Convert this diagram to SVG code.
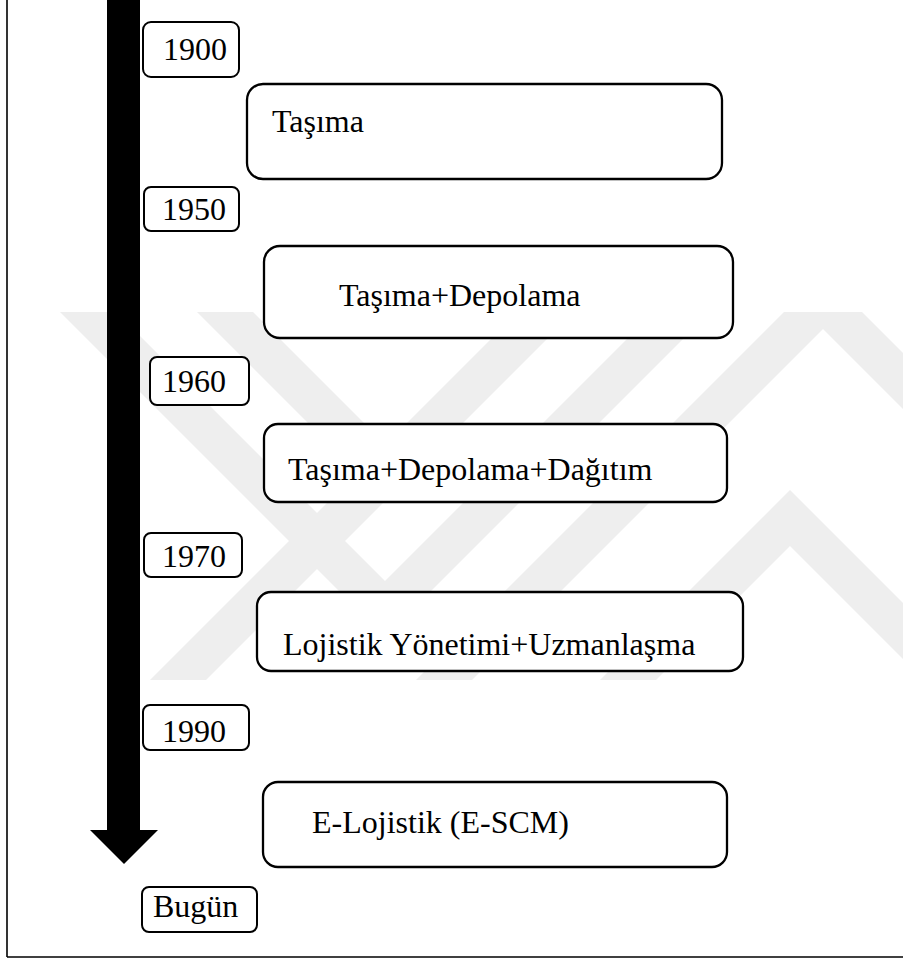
<svg xmlns="http://www.w3.org/2000/svg" width="903" height="959" viewBox="0 0 903 959">
<style>
.wm{fill:#eeeeee;stroke:none}
.big{fill:#fff;stroke:#000;stroke-width:2.3}
.yr{fill:#fff;stroke:#000;stroke-width:2}
.t{font-family:"Liberation Serif","Times New Roman",serif;font-size:32px;fill:#000}
</style>
<defs>
<clipPath id="wmclip"><rect x="0" y="312" width="903" height="368"/></clipPath>
</defs>
<rect x="0" y="0" width="903" height="959" fill="#fff"/>
<g id="watermark" clip-path="url(#wmclip)">
<polygon class="wm" points="518,312 574,312 206,680 150,680"/>
<polygon class="wm" points="784,312 840,312 472,680 416,680"/>
<polygon class="wm" points="197,312 253,312 399,458 371,486"/>
<polygon class="wm" points="60,312 116,312 385,581 654,312 710,312 385,637"/>
<polygon class="wm" points="790,490 980,680 924,680 790,546 656,680 600,680"/>
<polygon class="wm" points="806,312 862,312 1000,450 944,450"/>
</g>
<g id="frame" fill="none" stroke="#000" stroke-width="1.6">
<line x1="7" y1="0" x2="7" y2="957"/>
<line x1="7" y1="957" x2="903" y2="957"/>
</g>
<g id="connectors">
<polygon id="timeline-arrow" points="107,0 140,0 140,830 158,830 124,864 90,830 107,830" fill="#000"/>
</g>
<g id="y1900"><rect class="yr" x="143" y="22" width="96" height="55" rx="8"/><text class="t" x="163" y="60">1900</text></g>
<g id="y1950"><rect class="yr" x="144" y="187" width="95" height="44" rx="7"/><text class="t" x="162" y="220">1950</text></g>
<g id="y1960"><rect class="yr" x="150" y="357" width="99" height="48" rx="7"/><text class="t" x="162" y="392">1960</text></g>
<g id="y1970"><rect class="yr" x="144" y="533" width="98" height="44" rx="7"/><text class="t" x="162" y="567">1970</text></g>
<g id="y1990"><rect class="yr" x="143" y="705" width="106" height="45" rx="7"/><text class="t" x="162" y="742">1990</text></g>
<g id="bugun"><rect class="yr" x="142" y="887" width="115" height="45" rx="7"/><text class="t" x="153" y="917">Bugün</text></g>
<g id="n1"><rect class="big" x="247" y="84" width="475" height="95" rx="16"/><text class="t" x="272" y="132">Taşıma</text></g>
<g id="n2"><rect class="big" x="264" y="246" width="469" height="92" rx="16"/><text class="t" x="339" y="306">Taşıma+Depolama</text></g>
<g id="n3"><rect class="big" x="264" y="424" width="463" height="78" rx="14"/><text class="t" x="288" y="480">Taşıma+Depolama+Dağıtım</text></g>
<g id="n4"><rect class="big" x="257" y="592" width="486" height="79" rx="14"/><text class="t" x="283" y="655">Lojistik Yönetimi+Uzmanlaşma</text></g>
<g id="n5"><rect class="big" x="263" y="782" width="464" height="85" rx="15"/><text class="t" x="312" y="833">E-Lojistik (E-SCM)</text></g>
</svg>
